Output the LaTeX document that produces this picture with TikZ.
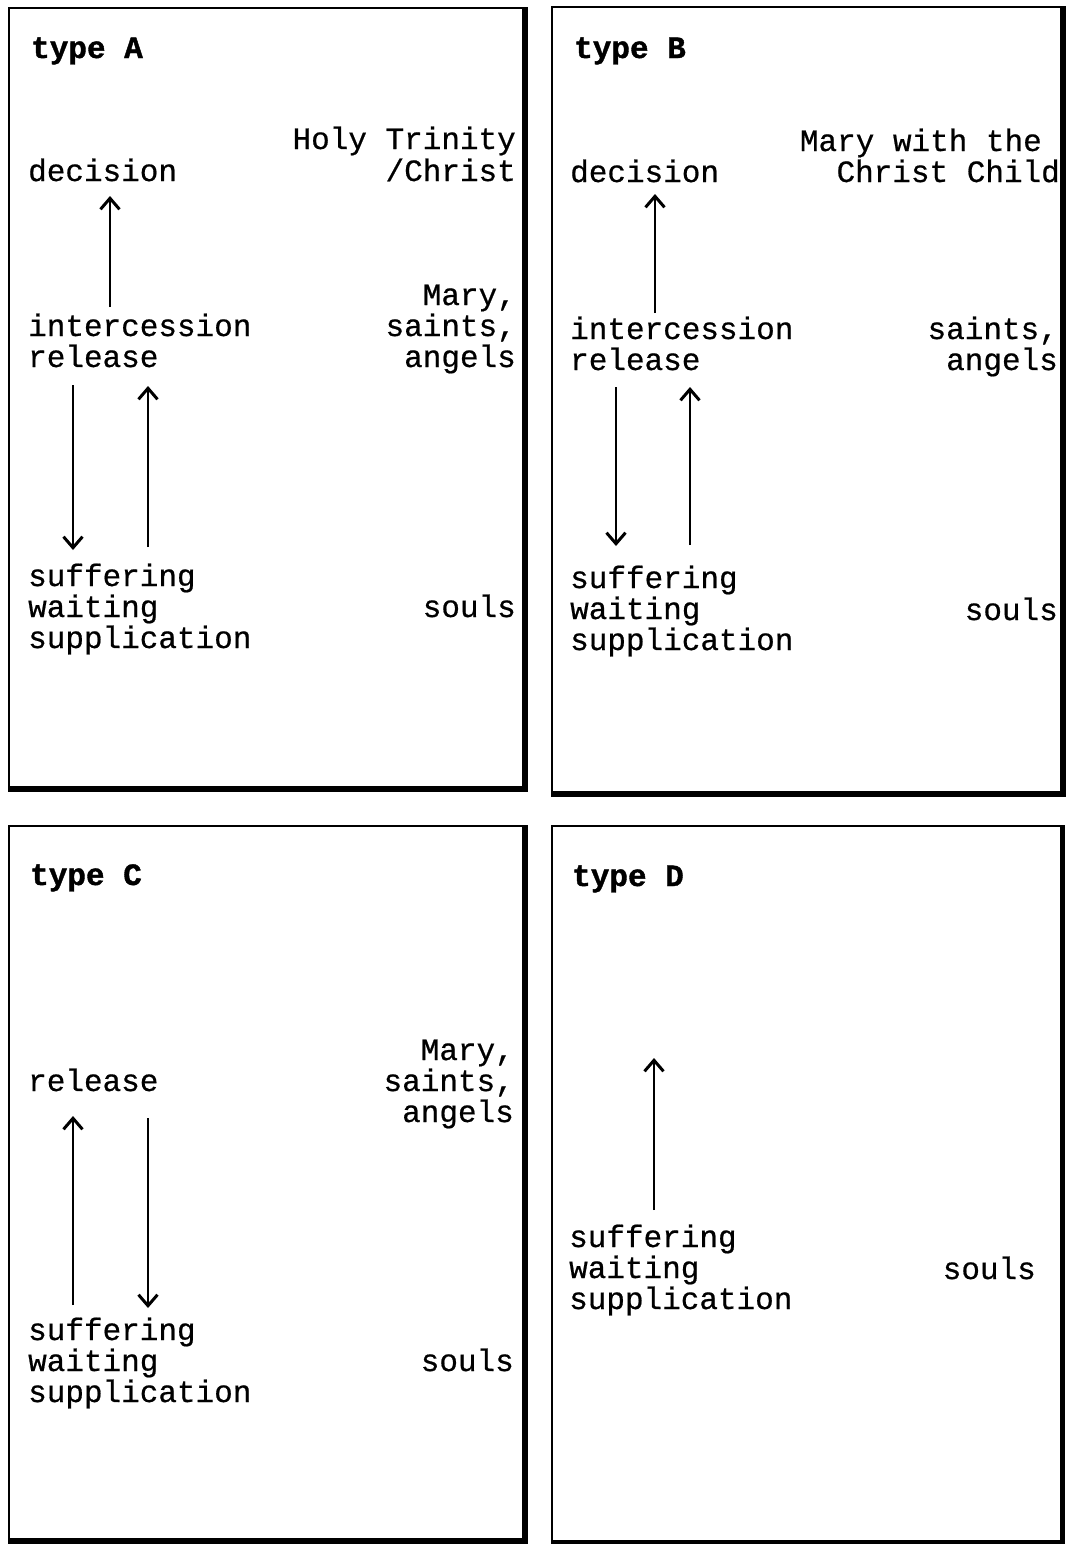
\documentclass[tikz,border=0pt]{standalone}
\usepackage{fontspec}
\setmainfont{Liberation Mono}[FakeBold=0.6]
\newfontfamily\ttlfont{Liberation Mono}[FakeBold=1.2]
\usetikzlibrary{arrows.meta}
\tikzset{
  lbl/.style={inner sep=0pt, anchor=base west, font=\fontsize{31}{31}\selectfont},
  rlbl/.style={inner sep=0pt, anchor=base east, font=\fontsize{31}{31}\selectfont},
  ttl/.style={inner sep=0pt, anchor=base west, font=\ttlfont\fontsize{31}{31}\selectfont\bfseries},
  flow/.style={line width=2.6pt, -{Straight Barb[length=11pt,width=19pt,line width=3pt]}},
  thinedge/.style={line width=2.4pt},
  thickedge/.style={line width=6.5pt},
}
\begin{document}
\begin{tikzpicture}[x=1pt,y=-1pt]
\useasboundingbox (0,0) rectangle (1066,1545);
% ---- boxes ----
\draw[thinedge] (9,8) rectangle (523,787);
\draw[thickedge] (525,7) -- (525,789) -- (8,789);
\draw[thinedge] (552,7) rectangle (1061,792);
\draw[thickedge] (1063,6) -- (1063,794) -- (551,794);
\draw[thinedge] (9,826) rectangle (523,1539);
\draw[thickedge] (525,825) -- (525,1541) -- (8,1541);
\draw[thinedge] (552,826) rectangle (1061,1541);
\draw[line width=4pt] (1063,825) -- (1063,1542) -- (551,1542);

% ---- type A ----
\node[ttl] (Atitle) at (31,58) {type A};
\node[rlbl] (Aht) at (516,149) {Holy Trinity};
\node[rlbl] (Ach) at (516,181) {/Christ};
\node[lbl] (Adec) at (28,181) {decision};
\node[rlbl] (Amary) at (516,305) {Mary,};
\node[rlbl] (Asaints) at (516,336) {saints,};
\node[rlbl] (Aangels) at (516,367) {angels};
\node[lbl] (Aint) at (28,336) {intercession};
\node[lbl] (Arel) at (28,367) {release};
\node[lbl] (Asuf) at (28,586) {suffering};
\node[lbl] (Await) at (28,617) {waiting};
\node[lbl] (Asup) at (28,648) {supplication};
\node[rlbl] (Asouls) at (516,617) {souls};
\coordinate (A1s) at (110,307); \coordinate (A1e) at (110,196);
\coordinate (A2s) at (73,385);  \coordinate (A2e) at (73,550);
\coordinate (A3s) at (148,547); \coordinate (A3e) at (148,386);
\draw[flow] (A1s) -- (A1e);
\draw[flow] (A2s) -- (A2e);
\draw[flow] (A3s) -- (A3e);

% ---- type B ----
\node[ttl] (Btitle) at (574,58) {type B};
\node[rlbl] (Bmary) at (1042,151) {Mary with the};
\node[rlbl] (Bchild) at (1060,182) {Christ Child};
\node[lbl] (Bdec) at (570,182) {decision};
\node[rlbl] (Bsaints) at (1058,339) {saints,};
\node[rlbl] (Bangels) at (1058,370) {angels};
\node[lbl] (Bint) at (570,339) {intercession};
\node[lbl] (Brel) at (570,370) {release};
\node[lbl] (Bsuf) at (570,588) {suffering};
\node[lbl] (Bwait) at (570,619) {waiting};
\node[lbl] (Bsup) at (570,650) {supplication};
\node[rlbl] (Bsouls) at (1058,620) {souls};
\coordinate (B1s) at (655,313); \coordinate (B1e) at (655,194);
\coordinate (B2s) at (616,387); \coordinate (B2e) at (616,546);
\coordinate (B3s) at (690,545); \coordinate (B3e) at (690,387);
\draw[flow] (B1s) -- (B1e);
\draw[flow] (B2s) -- (B2e);
\draw[flow] (B3s) -- (B3e);

% ---- type C ----
\node[ttl] (Ctitle) at (30,885) {type C};
\node[rlbl] (Cmary) at (514,1060) {Mary,};
\node[rlbl] (Csaints) at (514,1091) {saints,};
\node[rlbl] (Cangels) at (514,1122) {angels};
\node[lbl] (Crel) at (28,1091) {release};
\node[lbl] (Csuf) at (28,1340) {suffering};
\node[lbl] (Cwait) at (28,1371) {waiting};
\node[lbl] (Csup) at (28,1402) {supplication};
\node[rlbl] (Csouls) at (514,1371) {souls};
\coordinate (C1s) at (73,1305);  \coordinate (C1e) at (73,1116);
\coordinate (C2s) at (148,1118); \coordinate (C2e) at (148,1308);
\draw[flow] (C1s) -- (C1e);
\draw[flow] (C2s) -- (C2e);

% ---- type D ----
\node[ttl] (Dtitle) at (572,886) {type D};
\node[lbl] (Dsuf) at (569,1247) {suffering};
\node[lbl] (Dwait) at (569,1278) {waiting};
\node[lbl] (Dsup) at (569,1309) {supplication};
\node[rlbl] (Dsouls) at (1036,1279) {souls};
\coordinate (D1s) at (654,1210); \coordinate (D1e) at (654,1058);
\draw[flow] (D1s) -- (D1e);
\end{tikzpicture}
\end{document}
